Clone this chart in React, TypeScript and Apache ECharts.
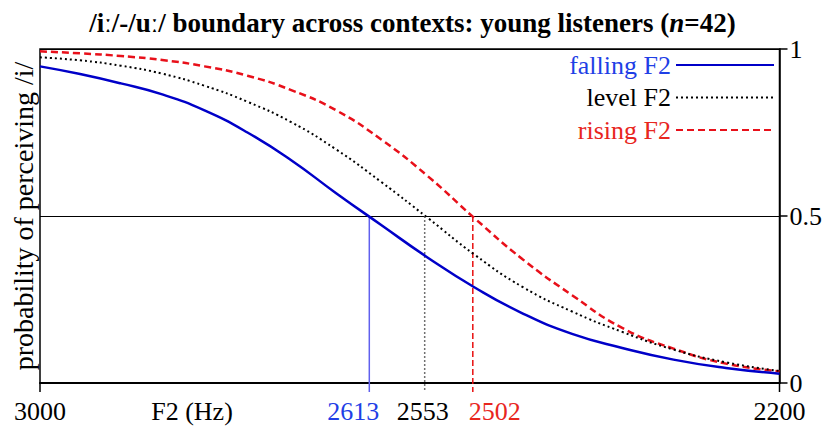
import React, { useEffect, useRef } from "react";
import * as echarts from "echarts";

// ---- data ----
const freqs = [3000, 2950, 2900, 2850, 2800, 2750, 2700, 2650, 2600, 2550, 2500, 2450, 2400, 2350, 2300, 2250, 2200];
const falling = [0.948, 0.925, 0.897, 0.864, 0.816, 0.75, 0.667, 0.569, 0.473, 0.376, 0.286, 0.208, 0.147, 0.105, 0.07, 0.045, 0.028];
const level = [0.975, 0.966, 0.95, 0.926, 0.89, 0.842, 0.781, 0.7, 0.602, 0.495, 0.384, 0.287, 0.214, 0.153, 0.1, 0.062, 0.036];
const rising = [0.993, 0.987, 0.979, 0.967, 0.948, 0.92, 0.877, 0.817, 0.729, 0.62, 0.493, 0.37, 0.263, 0.165, 0.103, 0.058, 0.035];
const seriesNames = ["falling F2", "level F2", "rising F2"];
const boundaries = [2613, 2553, 2502];
const boundaryLabels = ["2613", "2553", "2502"];
const endTicks = [3000, 2200];
const endTickLabels = ["3000", "2200"];
const yTicks = [0, 0.5, 1];

// ---- styles ----
const FONT = "Liberation Serif";
const lineColors = ["#0000c8", "#000000", "#e8101a"];
const textColors = ["#1f3fe6", "#000000", "#e8261e"];
const lineTypes: any[] = ["solid", [2, 3], [7, 4]];
const lineWidths = [2.5, 2, 2.5];
const vColors = ["#6060ee", "#707070", "#e81010"];
const vTypes: any[] = ["solid", [2, 2], [6, 3]];
const labelOffsets = [-16, -2, 22];

export default function App() {
  const ref = useRef<HTMLDivElement>(null);
  useEffect(() => {
    if (!ref.current) return;
    const chart = echarts.init(ref.current, null, { renderer: "svg" });
    const all = [falling, level, rising];
    const option: any = {
      animation: false,
      backgroundColor: "#ffffff",
      title: {
        text: "{a|/iː/-/uː/ boundary across contexts: young listeners (}{i|n}{a|=42)}",
        left: "center",
        top: 4,
        textStyle: {
          rich: {
            a: { fontFamily: FONT, fontWeight: "bold", fontSize: 27, color: "#000" },
            i: { fontFamily: FONT, fontWeight: "bold", fontStyle: "italic", fontSize: 27, color: "#000" },
          },
        },
      },
      legend: {
        orient: "vertical",
        right: 50,
        top: 52,
        align: "right",
        padding: 0,
        itemGap: 6.5,
        itemWidth: 98,
        itemHeight: 14,
        itemStyle: { opacity: 0 },
        data: seriesNames.map((n, i) => ({
          name: n,
          textStyle: { color: textColors[i], fontFamily: FONT, fontSize: 26, lineHeight: 26 },
        })),
      },
      grid: {
        left: 40,
        right: 42,
        top: 49,
        bottom: 43,
        show: true,
        borderColor: "#000",
        borderWidth: 1.5,
      },
      xAxis: {
        type: "log",
        logBase: 10,
        inverse: true,
        min: 2200,
        max: 3000,
        axisLine: { show: true, lineStyle: { color: "#000", width: 2 } },
        axisTick: { show: false },
        axisLabel: { show: false },
        splitLine: { show: false },
        minorTick: { show: false },
      },
      yAxis: {
        type: "value",
        position: "right",
        min: 0,
        max: 1,
        interval: 0.5,
        axisLine: { show: true, lineStyle: { color: "#000", width: 1.5 } },
        axisTick: { show: true, inside: false, length: 8, lineStyle: { color: "#000", width: 1.5 } },
        axisLabel: {
          margin: 10,
          color: "#000",
          fontFamily: FONT,
          fontSize: 26,
          lineHeight: 16,
          padding: [0, 0, 3, 0],
          formatter: (v: number) => (yTicks.indexOf(v) >= 0 ? String(v) : ""),
        },
        splitLine: { show: true, lineStyle: { color: "#000", width: 1 } },
      },
      series: seriesNames.map((n, i) => ({
        name: n,
        type: "line",
        smooth: 0.5,
        showSymbol: false,
        symbol: "none",
        z: 3 - i + 2,
        lineStyle: { color: lineColors[i], width: lineWidths[i], type: lineTypes[i] },
        itemStyle: { color: lineColors[i] },
        data: freqs.map((f, k) => [f, all[i][k]]),
      })),
    };
    chart.setOption(option);

    const px = (f: number) => chart.convertToPixel({ xAxisIndex: 0 }, f) as number;
    const py = (v: number) => chart.convertToPixel({ yAxisIndex: 0 }, v) as number;
    const y0 = py(0);
    const yMid = py(0.5);
    const graphics: any[] = [];
    const labelY = y0 + 15;
    boundaries.forEach((b, i) => {
      const x = px(b);
      graphics.push({
        type: "line",
        shape: { x1: x, y1: yMid, x2: x, y2: y0 + 9 },
        style: { stroke: vColors[i], lineWidth: 1.5, lineDash: vTypes[i] === "solid" ? null : vTypes[i] },
        z: 1,
      });
      graphics.push({
        type: "text",
        x: x + labelOffsets[i],
        y: labelY,
        style: {
          text: boundaryLabels[i],
          fill: textColors[i],
          font: `26px "${FONT}"`,
          textAlign: "center",
          textVerticalAlign: "top",
        },
      });
    });
    endTicks.forEach((t, i) => {
      const x = px(t);
      graphics.push({
        type: "line",
        shape: { x1: x, y1: y0, x2: x, y2: y0 + 9 },
        style: { stroke: "#000", lineWidth: 1.5 },
      });
      graphics.push({
        type: "text",
        x: x,
        y: labelY,
        style: {
          text: endTickLabels[i],
          fill: "#000",
          font: `26px "${FONT}"`,
          textAlign: "center",
          textVerticalAlign: "top",
        },
      });
    });
    graphics.push({
      type: "text",
      x: 192,
      y: labelY,
      style: { text: "F2 (Hz)", fill: "#000", font: `26px "${FONT}"`, textAlign: "center", textVerticalAlign: "top" },
    });
    graphics.push({
      type: "text",
      x: 23,
      y: (y0 + py(1)) / 2,
      rotation: Math.PI / 2,
      style: {
        text: "probability of perceiving /i/",
        fill: "#000",
        font: `28px "${FONT}"`,
        textAlign: "center",
        textVerticalAlign: "middle",
      },
    });
    chart.setOption({ graphic: graphics });

    return () => chart.dispose();
  }, []);
  return (
    <div
      ref={ref}
      style={{ position: "fixed", left: 0, top: 0, width: 825, height: 426, background: "#fff" }}
    />
  );
}
